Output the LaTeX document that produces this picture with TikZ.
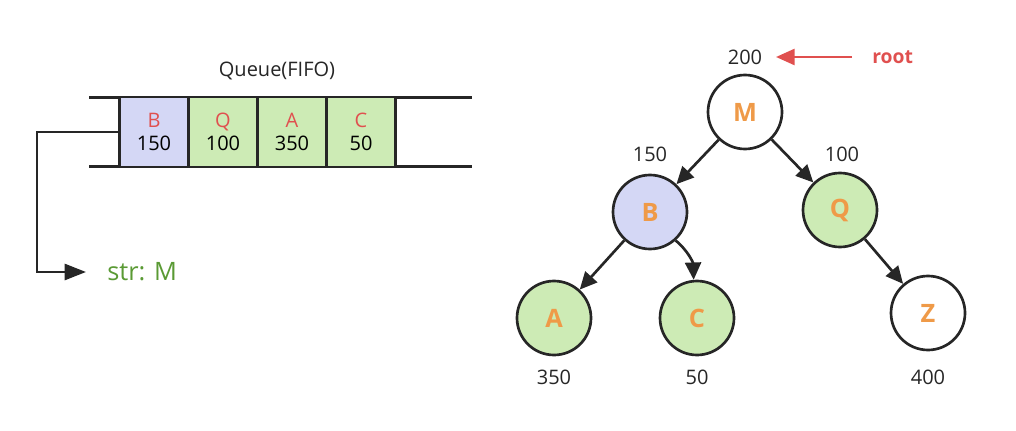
\documentclass[tikz,border=0pt]{standalone}
\usepackage{fontspec}
\setmainfont{Open Sans}
\usetikzlibrary{arrows.meta}
\definecolor{lblue}{HTML}{D4D7F5}
\definecolor{lgreen}{HTML}{CDEBB5}
\definecolor{orng}{HTML}{EF9A48}
\definecolor{rd}{HTML}{E0504F}
\definecolor{grn}{HTML}{5A9A34}
\definecolor{ln}{HTML}{262626}
\begin{document}
\begin{tikzpicture}[x=0.75pt,y=-0.75pt,
  txt/.style={font=\fontsize{15pt}{17pt}\selectfont, text=ln, inner sep=0pt},
  cell/.style={draw=ln, line width=2pt, minimum width=51.5pt, minimum height=52.5pt, inner sep=0pt, align=center,
     font=\fontsize{15pt}{17.25pt}\selectfont},
  tnode/.style={circle, draw=ln, line width=2pt, minimum size=55.5pt, inner sep=0pt,
     font=\fontsize{19pt}{20pt}\selectfont\bfseries, text=orng},
  arr/.style={draw=ln, line width=2pt, -{Triangle[length=13pt,width=12pt]}},
]
\useasboundingbox (0,0) rectangle (1016,431);
% queue
\coordinate (qtl) at (89,97.5);
\coordinate (qtr) at (472,97.5);
\coordinate (qbl) at (89,166.5);
\coordinate (qbr) at (472,166.5);
\draw[ln, line width=2pt] (qtl) -- (qtr);
\draw[ln, line width=2pt] (qbl) -- (qbr);
\node[txt] (qlabel) at (277,71) {Queue(FIFO)};
\node[cell, fill=lblue] (cB) at (154,132) {\textcolor{rd}{B}\\150};
\node[cell, fill=lgreen] (cQ) at (223,132) {\textcolor{rd}{Q}\\100};
\node[cell, fill=lgreen] (cA) at (292,132) {\textcolor{rd}{A}\\350};
\node[cell, fill=lgreen] (cC) at (361,132) {\textcolor{rd}{C}\\50};
% str: M
\coordinate (sa) at (86,272);
\node[anchor=west, inner sep=0pt, text=grn, font=\fontsize{19pt}{20pt}\selectfont] (strM) at (107,272) {str: M};
\draw[draw=ln, line width=2pt, -{Triangle[length=16pt,width=12pt]}] (cB.west) -- (37,132) |- (sa);
% tree
\node[tnode, fill=white] (M) at (745,112) {M};
\node[tnode, fill=lblue] (B) at (650,212) {B};
\node[tnode, fill=lgreen] (Q) at (840,210) {Q};
\node[tnode, fill=lgreen] (A) at (554,318) {A};
\node[tnode, fill=lgreen] (C) at (697,318) {C};
\node[tnode, fill=white] (Z) at (928,313) {Z};
\draw[arr] (M) -- (B);
\draw[arr] (M) -- (Q);
\draw[arr] (B) -- (A);
\draw[arr] (B.-48) to[out=-40,in=92] (C.95);
\draw[arr] (Q) -- (Z);
% numbers
\node[txt] (n200) at (745,57) {200};
\node[txt] (n150) at (650,154) {150};
\node[txt] (n100) at (842,154) {100};
\node[txt] (n350) at (554,377) {350};
\node[txt] (n50) at (697,377) {50};
\node[txt] (n400) at (928,377) {400};
\node[anchor=west, inner sep=0pt, text=rd, font=\fontsize{14.5pt}{17pt}\selectfont\bfseries] (root) at (872,57) {root};
\coordinate (rs) at (852,57);
\coordinate (rt) at (776,57);
\draw[draw=rd, line width=2pt, -{Triangle[length=14pt,width=12pt]}] (rs) -- (rt);
\end{tikzpicture}
\end{document}
